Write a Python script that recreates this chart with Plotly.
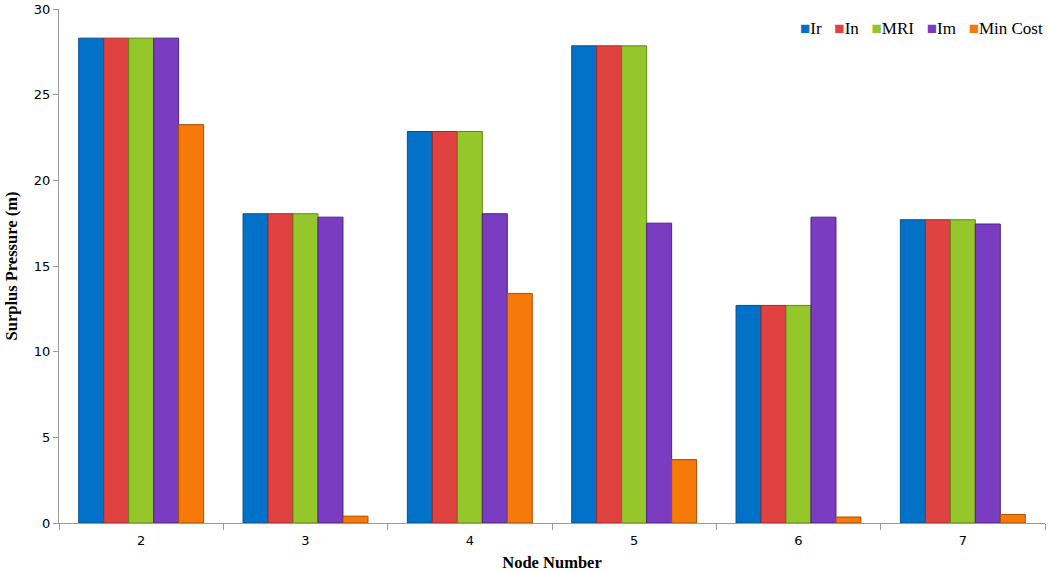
import plotly.graph_objects as go

nodes = ["2", "3", "4", "5", "6", "7"]
ir = [28.3, 18.05, 22.85, 27.85, 12.7, 17.7]
in_ = [28.3, 18.05, 22.85, 27.85, 12.7, 17.7]
mri = [28.3, 18.05, 22.85, 27.85, 12.7, 17.7]
im = [28.3, 17.85, 18.05, 17.5, 17.85, 17.45]
min_cost = [23.25, 0.4, 13.4, 3.7, 0.35, 0.5]
series_names = ["Ir", "In", "MRI", "Im", "Min Cost"]

colors = ["#0272C8", "#E04242", "#95C62A", "#7A3CC0", "#F57A0A"]
edges = ["#01518F", "#A52828", "#5F8A12", "#4B2283", "#A84E00"]
values = [ir, in_, mri, im, min_cost]

fig = go.Figure()
for name, vals, col, edge in zip(series_names, values, colors, edges):
    fig.add_trace(go.Bar(
        x=nodes, y=vals, name=name, showlegend=False,
        marker=dict(color=col, line=dict(color=edge, width=1)),
    ))

legend_text = "&nbsp;&nbsp;&nbsp;".join(
    f"<span style='color:{c}'>■</span>{n}" for n, c in zip(series_names, colors)
)
fig.add_annotation(
    text=legend_text, xref="paper", yref="paper", x=1.0, y=0.962,
    xanchor="right", yanchor="middle", showarrow=False,
    font=dict(family="Liberation Serif", size=17, color="black"),
)

fig.update_layout(
    width=1048, height=572,
    paper_bgcolor="white", plot_bgcolor="white",
    margin=dict(l=59, r=3, t=9, b=49),
    barmode="group", bargap=0.24, bargroupgap=0,
    xaxis=dict(
        title=dict(text="<b>Node Number</b>", font=dict(family="Liberation Serif", size=16.5, color="black"), standoff=16),
        showline=True, linecolor="#9a9a9a", linewidth=1, automargin=False,
        ticks="outside", tickson="boundaries", ticklen=6, tickcolor="#9a9a9a",
        ticklabelstandoff=5,
        tickfont=dict(family="DejaVu Sans", size=13, color="black"),
        showgrid=False, zeroline=False,
    ),
    yaxis=dict(
        title=dict(text="<b>Surplus Pressure (m)</b>", font=dict(family="Liberation Serif", size=16.5, color="black"), standoff=12),
        range=[0, 30], tickvals=[0, 5, 10, 15, 20, 25, 30],
        showline=True, linecolor="#9a9a9a", linewidth=1, automargin=False,
        ticks="outside", ticklen=5, tickcolor="#9a9a9a",
        tickfont=dict(family="DejaVu Sans", size=13, color="black"),
        showgrid=False, zeroline=False,
    ),
)

fig.write_html("out.html", config={"displayModeBar": False},
               post_script="document.body.style.margin='0';")
